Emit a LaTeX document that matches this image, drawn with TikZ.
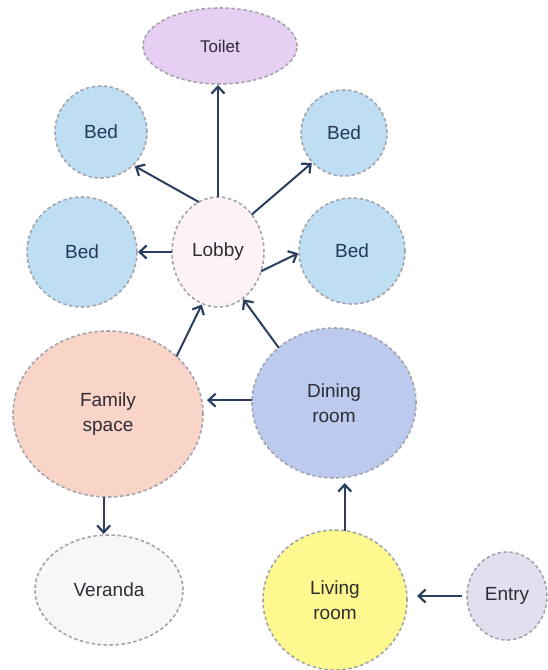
\documentclass[tikz,border=0pt]{standalone}
\usepackage{fontspec}
\setmainfont{Liberation Sans}
\usepackage{xcolor}
\usetikzlibrary{arrows.meta,shapes.geometric}

\definecolor{toiletfill}{HTML}{E6CFF3}
\definecolor{bedfill}{HTML}{BEDEF3}
\definecolor{lobbyfill}{HTML}{FDF3F7}
\definecolor{familyfill}{HTML}{F9D5C8}
\definecolor{diningfill}{HTML}{BCCAEE}
\definecolor{verandafill}{HTML}{F7F7F9}
\definecolor{livingfill}{HTML}{FDF98E}
\definecolor{entryfill}{HTML}{E2DFF0}
\definecolor{roomline}{HTML}{A4A4AC}
\definecolor{roomtext}{HTML}{2E2C34}
\definecolor{bedtext}{HTML}{263758}
\definecolor{arrowblue}{HTML}{2C3E5E}

\begin{document}
\begin{tikzpicture}[
  x=1pt, y=-1pt,
  room/.style={ellipse, draw=roomline, dash pattern=on 3.5pt off 2.5pt, line width=1.6pt,
    inner sep=0pt, outer sep=0pt, align=center, text=roomtext,
    font=\fontsize{19}{25}\selectfont},
  bed/.style={room, fill=bedfill, text=bedtext},
  arrow/.style={-{Straight Barb[length=7pt,width=13pt,line width=2.2pt]}, line width=2pt, draw=arrowblue}
]
\useasboundingbox (0,0) rectangle (548,670);
\node[room, fill=toiletfill, minimum width=154pt, minimum height=76pt, font=\fontsize{17}{20}\selectfont] (toilet) at (220,46) {Toilet};
\node[bed, minimum width=92pt, minimum height=92pt] (bedtl) at (101,132) {Bed};
\node[bed, minimum width=86pt, minimum height=86pt] (bedtr) at (344,133) {Bed};
\node[bed, minimum width=110pt, minimum height=110pt] (bedl) at (82,252) {Bed};
\node[room, fill=lobbyfill, minimum width=92pt, minimum height=110pt] (lobby) at (218,252) {Lobby};
\node[bed, minimum width=106pt, minimum height=106pt] (bedr) at (352,251) {Bed};
\node[room, fill=familyfill, minimum width=190pt, minimum height=166pt] (family) at (108,414) {Family\\space};
\node[room, fill=diningfill, minimum width=164pt, minimum height=150pt] (dining) at (334,403) {Dining\\room};
\node[room, fill=verandafill, minimum width=148pt, minimum height=110pt] (veranda) at (109,590) {Veranda};
\node[room, fill=livingfill, minimum width=144pt, minimum height=140pt] (living) at (335,600) {Living\\room};
\node[room, fill=entryfill, minimum width=80pt, minimum height=88pt] (entry) at (507,596) {Entry};
% lobby to the rooms round it
\draw[arrow, shorten >=1pt] (lobby.north) -- (lobby.north |- toilet.south);
\draw[arrow, shorten >=2pt] (lobby.111) -- (bedtl.-46);
\draw[arrow, shorten >=1pt] (lobby.48) -- (bedtr.-137);
\draw[arrow, shorten >=1pt] (lobby.west) -- (bedl.east);
\draw[arrow, shorten >=1pt] (lobby.-24) -- (bedr.182);
% into the lobby
\draw[arrow, shorten >=1pt] (family.40) -- (lobby.-107);
\draw[arrow, shorten >=1pt] (dining.135) -- (lobby.-62);
\draw[arrow, shorten >=4pt] (dining.178) -- (dining.178 -| family.east);
\draw[arrow, shorten >=1pt] (family.-93) -- (family.-93 |- veranda.north);
\draw[arrow, shorten >=5pt] (living.82) -- (living.82 |- dining.south);
\draw[arrow, shorten <=5pt, shorten >=10pt] (entry.west) -- (entry.west -| living.east);
\end{tikzpicture}
\end{document}
